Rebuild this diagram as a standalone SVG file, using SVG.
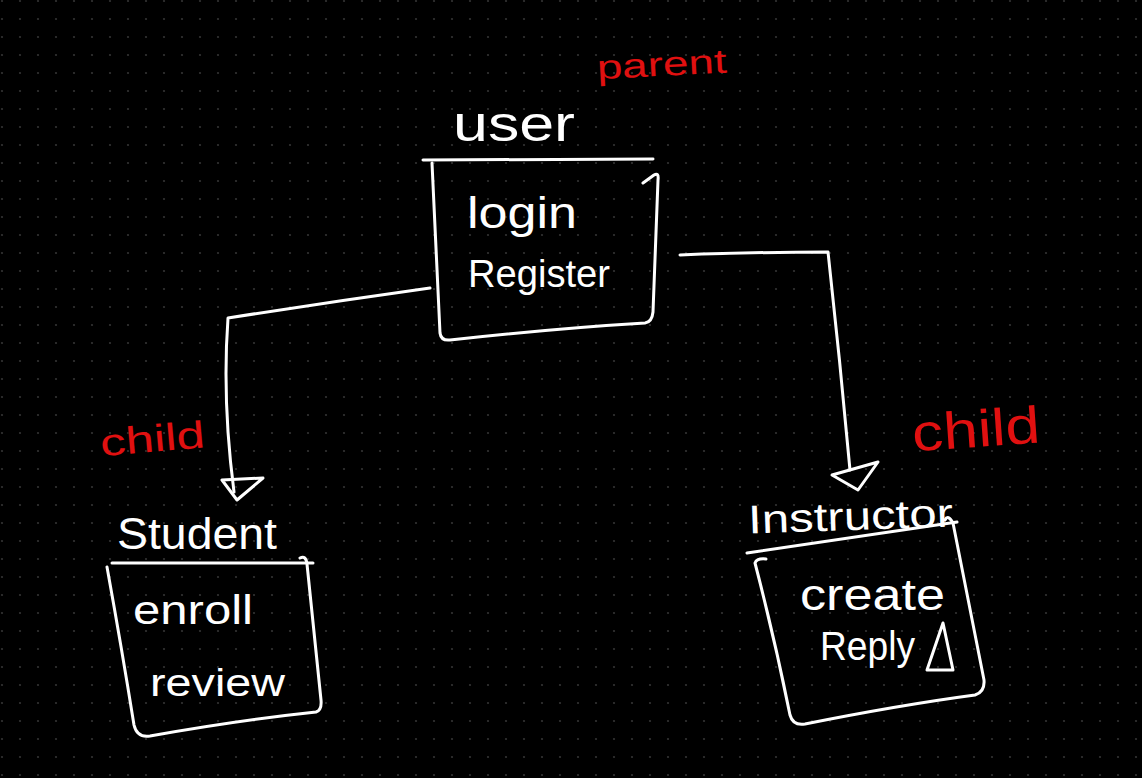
<svg xmlns="http://www.w3.org/2000/svg" width="1142" height="778" viewBox="0 0 1142 778">
<defs>
<pattern id="dots" patternUnits="userSpaceOnUse" x="-7" y="-8" width="18" height="18">
<circle cx="9" cy="9" r="1.1" fill="#333"/>
</pattern>
<style>
.ink{fill:none;stroke:#fff;stroke-width:3;stroke-linecap:round;stroke-linejoin:round}
.t{fill:#fff;font-family:"Liberation Sans",Arial,sans-serif;font-weight:normal}
.r{fill:#e01010;font-family:"Liberation Sans",Arial,sans-serif}
</style>
</defs>
<rect width="1142" height="778" fill="#000"/>
<rect width="1142" height="778" fill="url(#dots)"/>

<text class="r" x="597" y="76" font-size="34" textLength="130" lengthAdjust="spacingAndGlyphs" transform="rotate(-3 660 70)">parent</text>
<text class="r" x="100" y="452" font-size="38" textLength="105" lengthAdjust="spacingAndGlyphs" transform="rotate(-5 150 440)">child</text>
<text class="r" x="912" y="447" font-size="52" textLength="128" lengthAdjust="spacingAndGlyphs" transform="rotate(-4 975 430)">child</text>

<g id="user">
<text class="t" x="453" y="141" font-size="50" textLength="122" lengthAdjust="spacingAndGlyphs">user</text>
<path class="ink" d="M423 160 L653 159"/>
<path class="ink" d="M432 163 Q436 250 440 333 Q441 341 450 340 Q560 328 645 323 Q652 322 653 312 Q656 240 658 180 Q659 172 654 175 L643 183"/>
<text class="t" x="467" y="228" font-size="44" textLength="110" lengthAdjust="spacingAndGlyphs">login</text>
<text class="t" x="468" y="287" font-size="38" textLength="142" lengthAdjust="spacingAndGlyphs">Register</text>
</g>

<g id="student">
<text class="t" x="117" y="549" font-size="44" textLength="160" lengthAdjust="spacingAndGlyphs">Student</text>
<path class="ink" d="M112 563 L313 563"/>
<path class="ink" d="M107 567 Q122 650 134 725 Q137 738 150 736 Q240 720 316 712 Q322 710 321 700 Q314 630 307 564 Q306 555 300 558"/>
<text class="t" x="133" y="624" font-size="40" textLength="120" lengthAdjust="spacingAndGlyphs">enroll</text>
<text class="t" x="150" y="696" font-size="38" textLength="135" lengthAdjust="spacingAndGlyphs">review</text>
</g>

<g id="instructor">
<text class="t" x="748" y="530" font-size="40" textLength="205" lengthAdjust="spacingAndGlyphs" transform="rotate(-2 850 515)">Instructor</text>
<path class="ink" d="M747 553 L957 522"/>
<path class="ink" d="M766 559 Q757 558 755 563 Q775 640 790 715 Q793 726 805 724 Q900 705 975 695 Q985 692 984 680 Q968 600 953 523 Q948 514 945 520"/>
<text class="t" x="800" y="610" font-size="44" textLength="145" lengthAdjust="spacingAndGlyphs">create</text>
<text class="t" x="820" y="660" font-size="40" textLength="95" lengthAdjust="spacingAndGlyphs">Reply</text>
<path class="ink" d="M943 623 L927 670 L953 670 Z"/>
</g>

<g id="connectors">
<path class="ink" d="M430 288 Q330 302 228 318 Q222 400 234 492"/>
<path class="ink" d="M222 480 L263 478 L237 500 Z"/>
<path class="ink" d="M680 255 Q760 252 828 252 Q840 360 850 470"/>
<path class="ink" d="M832 475 L878 462 L858 490 Z"/>
</g>
</svg>
